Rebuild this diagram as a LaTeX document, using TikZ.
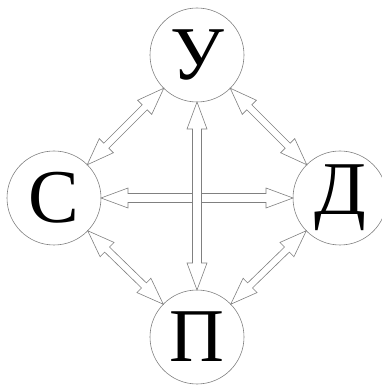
\documentclass[tikz,border=0pt]{standalone}
\usepackage{fontspec}
\setmainfont{Liberation Serif}
\usetikzlibrary{calc}

\tikzset{
  letter/.style={circle, draw=gray, line width=0.6pt, minimum size=94pt, inner sep=0pt,
    font=\fontsize{76}{76}\selectfont},
  dblarrow/.style={draw=gray, line width=0.6pt, fill=white,
    to path={let \p1=(\tikztostart), \p2=(\tikztotarget),
      \n1={veclen(\x2-\x1,\y2-\y1)}, \n2={atan2(\y2-\y1,\x2-\x1)} in
      [shift={(\p1)}, rotate=\n2]
      (47pt,0pt) -- (74pt,10pt) -- (74pt,#1) -- (\n1-74pt,#1) -- (\n1-74pt,10pt)
      -- (\n1-47pt,0pt) -- (\n1-74pt,-10pt) -- (\n1-74pt,-#1) -- (74pt,-#1)
      -- (74pt,-10pt) -- cycle}}
}

\begin{document}
\begin{tikzpicture}[x=1pt, y=1pt]
  \useasboundingbox (0,0) rectangle (382,385);
  % circles
  \node[letter] (U) at (197,330) {У};
  \node[letter] (S) at (54,187) {С};
  \node[letter] (D) at (340,187) {Д};
  \node[letter] (P) at (197,48) {П};
  % diagonal arrows
  \path[dblarrow=3.5pt] (U) to (S);
  \path[dblarrow=3.5pt] (U) to (D);
  \path[dblarrow=3.5pt] (S) to (P);
  \path[dblarrow=3.5pt] (D) to (P);
  % cross
  \path[dblarrow=4.5pt] (S) to (D);
  \path[dblarrow=4.5pt] (U) to (P);
\end{tikzpicture}
\end{document}
